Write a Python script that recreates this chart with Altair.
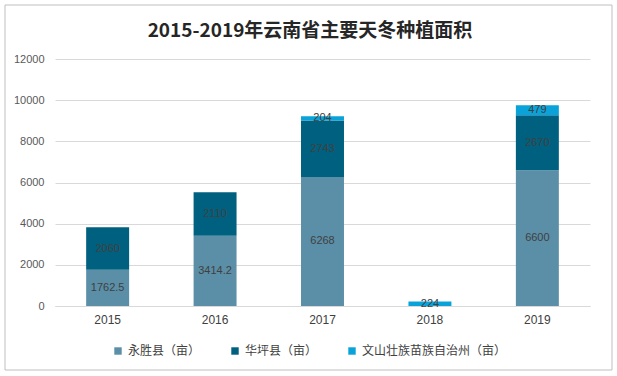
import altair as alt
import pandas as pd

years = ["2015", "2016", "2017", "2018", "2019"]
series = ["永胜县（亩）", "华坪县（亩）", "文山壮族苗族自治州（亩）"]
yongsheng = [1762.5, 3414.2, 6268, None, 6600]
huaping = [2060, 2110, 2743, None, 2670]
wenshan = [None, None, 204, 224, 479]
colors = ["#5b8fa8", "#00607f", "#0aa3d9"]
y_ticks = [0, 2000, 4000, 6000, 8000, 10000, 12000]
title_text = "2015-2019年云南省主要天冬种植面积"

rows = []
for i, y in enumerate(years):
    for k, vals in enumerate([yongsheng, huaping, wenshan]):
        v = vals[i]
        if v is not None:
            rows.append({"year": y, "series": series[k], "order": k, "value": v,
                         "label": str(v)})
df = pd.DataFrame(rows)

FONT_NUM = "Liberation Sans"
FONT_CJK = "Noto Sans CJK SC"

base = alt.Chart(df)

bars = base.mark_bar().encode(
    x=alt.X("year:N", sort=years, title=None,
            scale=alt.Scale(paddingInner=0.6, paddingOuter=0.29),
            axis=alt.Axis(labelAngle=0, ticks=False, domain=True, domainColor="#d9d9d9",
                          labelFont=FONT_NUM, labelFontSize=12, labelColor="#404040",
                          labelPadding=8)),
    y=alt.Y("value:Q", stack="zero", title=None,
            scale=alt.Scale(domain=[0, 12000], nice=False),
            axis=alt.Axis(values=y_ticks, format="d", ticks=False, domain=False,
                          gridColor="#d9d9d9",
                          labelFont=FONT_NUM, labelFontSize=11, labelColor="#595959",
                          labelPadding=11)),
    color=alt.Color("series:N", sort=series,
                    scale=alt.Scale(domain=series, range=colors),
                    legend=alt.Legend(title=None, orient="none", direction="horizontal",
                                      legendX=57, legendY=286, symbolType="square",
                                      symbolSize=55, symbolStrokeWidth=0,
                                      labelFont=FONT_CJK, labelFontSize=12,
                                      labelColor="#404040", columnPadding=28,
                                      symbolOffset=0, labelOffset=4)),
    order=alt.Order("order:Q", sort="ascending"),
)

labels = base.transform_stack(
    stack="value", groupby=["year"], as_=["v0", "v1"],
    sort=[alt.SortField("order", order="ascending")]
).transform_calculate(
    mid="(datum.v0 + datum.v1) / 2"
).mark_text(font=FONT_NUM, fontSize=11, color="#404040", baseline="middle").encode(
    x=alt.X("year:N", sort=years),
    y=alt.Y("mid:Q"),
    text="label:N",
)

title = alt.Chart(pd.DataFrame({"t": [title_text]})).mark_text(
    font=FONT_CJK, fontSize=19, fontWeight="bold", color="#262626",
    align="center", baseline="middle"
).encode(x=alt.value(255), y=alt.value(-28), text="t:N")

border = alt.Chart(pd.DataFrame({"a": [0]})).mark_rect(
    fill=None, stroke="#bfbfbf", strokeWidth=1
).encode(
    x=alt.value(-50), x2=alt.value(557), y=alt.value(-54), y2=alt.value(311)
)

chart = alt.layer(bars, labels, title, border).properties(
    width=535, height=247,
    autosize=alt.AutoSizeParams(type="none"),
    padding={"left": 55, "top": 59, "right": 27, "bottom": 70},
    background="white",
).configure_view(stroke=None)

chart.save("out.html", embed_options={"renderer": "svg", "actions": False})
